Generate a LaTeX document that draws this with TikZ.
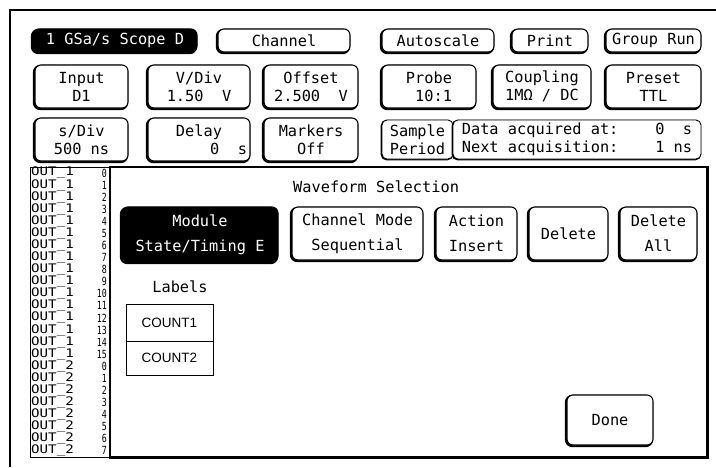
\documentclass[tikz,border=0pt]{standalone}
\usepackage{fontspec}
\usepackage{graphicx}
\setmonofont{DejaVu Sans Mono}
\setsansfont{Liberation Sans}
\tikzset{
  scr/.style={font=\fontsize{15.3}{18}\selectfont\ttfamily},
  scrbig/.style={font=\fontsize{15.3}{25}\selectfont\ttfamily},
  btn/.style={draw, line width=1.1pt, rounded corners=6pt, fill=white, scr, align=center, inner sep=0pt,
    preaction={draw, line width=2.2pt, rounded corners=6pt, transform canvas={xshift=-1pt,yshift=-1pt}}},
  btnk/.style={btn, fill=black, text=white},
  thinbtn/.style={draw, line width=0.9pt, rounded corners=5pt, fill=white, scr, align=center, inner sep=0pt,
    preaction={draw, line width=1.4pt, rounded corners=5pt, transform canvas={xshift=-0.6pt,yshift=-0.6pt}}},
  panel/.style={draw, line width=1.6pt, inner sep=0pt},
  lst/.style={font=\fontsize{11.8}{11.8}\selectfont\ttfamily, inner sep=0pt},
  cnt/.style={draw, line width=0.9pt, inner sep=0pt, font=\fontsize{13.5}{16}\selectfont\sffamily},
}
\begin{document}
\begin{tikzpicture}[x=1pt,y=-1pt]
\useasboundingbox (0,0) rectangle (716,467);
\fill[white] (0,0) rectangle (716,467);
% outer frame
\draw[line width=1.8pt] (10,467) -- (10,10) -- (716,10);

% row 1
\node[btnk, minimum width=164pt, minimum height=23pt] (scope) at (115,40.5) {1 GSa/s Scope D};
\node[btn, minimum width=132pt, minimum height=23pt] (channel) at (284,40.5) {Channel};
\node[btn, minimum width=112pt, minimum height=23pt] (autoscale) at (438,40.5) {Autoscale};
\node[btn, minimum width=76pt, minimum height=23pt] (print) at (550,40.5) {Print};
\node[btn, minimum width=95pt, minimum height=23pt] (grouprun) at (653.5,40.5) {Group Run};

% row 2
\node[btn, minimum width=93pt, minimum height=43pt] (input) at (81.5,86.5) {Input\\D1};
\node[btn, minimum width=102pt, minimum height=43pt] (vdiv) at (199,86.5) {V/Div\\1.50~~V};
\node[btn, minimum width=94pt, minimum height=43pt] (offset) at (311,86.5) {Offset\\2.500~~V};
\node[btn, minimum width=94pt, minimum height=43pt] (probe) at (429,86.5) {Probe\\~10:1};
\node[btn, minimum width=98pt, minimum height=43pt] (coupling) at (542,86.5) {Coupling\\1MΩ / DC};
\node[btn, minimum width=95pt, minimum height=43pt] (preset) at (653.5,86.5) {Preset\\TTL};

% row 3
\node[btn, minimum width=93pt, minimum height=43pt] (sdiv) at (81.5,139.5) {s/Div\\500 ns};
\node[btn, minimum width=102pt, minimum height=43pt] (delay) at (199,139.5) {Delay\\\makebox[96pt][r]{0~~s}};
\node[btn, minimum width=94pt, minimum height=43pt] (markers) at (311,139.5) {Markers\\Off};
\node[thinbtn, minimum width=71pt, minimum height=39pt] (sample) at (417.5,139.5) {Sample\\Period};
\node[thinbtn, minimum width=248pt, minimum height=39pt] (data) at (577,139.5) {Data acquired at:~~~~0~~s\\Next acquisition:~~~~1~ns};

% list box and dialog panel
\node[draw, line width=0.8pt, inner sep=0pt, minimum width=80pt, minimum height=290pt] (list) at (70,312) {};
\node[panel, minimum width=597pt, minimum height=290pt] (dialog) at (408.5,312) {};
\draw[line width=3pt] (dialog.north east) -- (dialog.south east) -- (dialog.south west);

\foreach \i in {0,...,23} {
  \pgfmathtruncatemacro\grp{\i<16 ? 1 : 2}
  \pgfmathtruncatemacro\num{\i<16 ? \i : \i-16}
  \node[lst, anchor=west] (out\i) at (31,{173+12.08*\i}) {\scalebox{1.2}[1]{OUT\_\grp}};
  \node[lst, anchor=east] (num\i) at (107,{173+12.08*\i}) {\scalebox{0.7}[0.95]{\num}};
}

% dialog contents
\node[scr, anchor=west, inner sep=0pt] (title) at (293,187) {Waveform Selection};
\node[btnk, scrbig, minimum width=156pt, minimum height=55pt] (module) at (200,234.5) {Module\\State/Timing E};
\node[btn, scrbig, minimum width=131pt, minimum height=53pt] (chmode) at (357.5,233.5) {Channel Mode\\Sequential};
\node[btn, scrbig, minimum width=81pt, minimum height=53pt] (action) at (476.5,233.5) {Action\\Insert};
\node[btn, scrbig, minimum width=79pt, minimum height=53pt] (delete) at (568.5,233.5) {Delete};
\node[btn, scrbig, minimum width=77pt, minimum height=53pt] (deleteall) at (658.5,233.5) {Delete\\All};

\node[scr, inner sep=0pt] (labels) at (180,287) {Labels};
\node[cnt, minimum width=87pt, minimum height=37pt] (count1) at (169.5,322.5) {COUNT1};
\node[cnt, minimum width=87pt, minimum height=34pt] (count2) at (169.5,358) {COUNT2};

\node[btn, minimum width=86pt, minimum height=50pt] (done) at (610,420) {Done};
\end{tikzpicture}
\end{document}
